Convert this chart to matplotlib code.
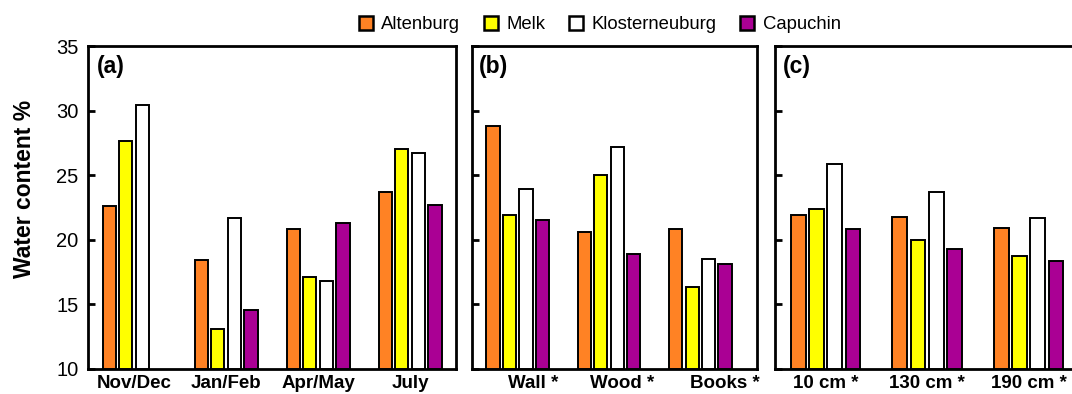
import matplotlib.pyplot as plt
import numpy as np
from matplotlib.patches import Patch

plt.rcParams['font.family'] = ['Liberation Sans', 'DejaVu Sans']

sites = ['Altenburg', 'Melk', 'Klosterneuburg', 'Capuchin']
colors = ['#ff8224', '#ffff00', '#ffffff', '#aa0094']

# (a) seasons
seasons = ['Nov/Dec', 'Jan/Feb', 'Apr/May', 'July']
altenburg_a = [22.6, 18.45, 20.8, 23.7]
melk_a = [27.6, 13.1, 17.1, 27.0]
kloster_a = [30.4, 21.65, 16.75, 26.7]
capuchin_a = [np.nan, 14.55, 21.25, 22.7]

# (b) materials
materials = ['Wall *', 'Wood *', 'Books *']
altenburg_b = [28.8, 20.55, 20.8]
melk_b = [21.9, 25.0, 16.3]
kloster_b = [23.9, 27.2, 18.5]
capuchin_b = [21.5, 18.9, 18.1]

# (c) heights
heights = ['10 cm *', '130 cm *', '190 cm *']
altenburg_c = [21.9, 21.75, 20.9]
melk_c = [22.35, 19.95, 18.75]
kloster_c = [25.85, 23.65, 21.7]
capuchin_c = [20.85, 19.25, 18.3]

panels = [
    ('(a)', seasons, [altenburg_a, melk_a, kloster_a, capuchin_a]),
    ('(b)', materials, [altenburg_b, melk_b, kloster_b, capuchin_b]),
    ('(c)', heights, [altenburg_c, melk_c, kloster_c, capuchin_c]),
]

fig = plt.figure(figsize=(10.72, 3.94), dpi=100)
bottom, height = 0.0647, 0.8185
rects = [
    [0.0821, bottom, 0.3433, height],
    [0.4403, bottom, 0.2659, height],
    [0.7229, bottom, 0.2954, height],
]
xlims = [(-0.5, 3.5), (-0.5, 2.62), (-0.5, 2.62)]
label_shift = [[0, 0, 0, 0], [0.17, 0.14, 0.27], [0, 0, 0]]

pitch = 0.18
width = 0.145
offsets = (np.arange(4) - 1.5) * pitch

for i, (tag, cats, series) in enumerate(panels):
    ax = fig.add_axes(rects[i])
    x = np.arange(len(cats))
    for k, vals in enumerate(series):
        v = np.array(vals, dtype=float)
        ax.bar(x + offsets[k], v - 10, width, bottom=10, color=colors[k],
               edgecolor='black', linewidth=1.4, zorder=3)
    ax.set_xlim(*xlims[i])
    ax.set_ylim(10, 35)
    ax.set_yticks([10, 15, 20, 25, 30, 35])
    ax.set_xticks(x + np.array(label_shift[i]))
    ax.set_xticklabels(cats, fontsize=13.5, fontweight='bold')
    ax.tick_params(axis='x', length=0, pad=5)
    ax.tick_params(axis='y', direction='in', length=5, width=2, pad=7,
                   labelsize=14.5)
    if i > 0:
        ax.set_yticklabels([])
    for sp in ax.spines.values():
        sp.set_linewidth(2)
    ax.text(0.025, 0.935, tag, transform=ax.transAxes, fontsize=16.5,
            fontweight='bold', va='center', ha='left')
    if i == 0:
        ax.set_ylabel('Water content %', fontsize=16.5, fontweight='bold')
        ax.yaxis.set_label_coords(-0.14, 0.556)

handles = [Patch(facecolor=c, edgecolor='black', linewidth=1.8) for c in colors]
fig.legend(handles, sites, loc='center', bbox_to_anchor=(0.5595, 0.937),
           ncol=4, frameon=False, fontsize=13.3, handlelength=0.75,
           handleheight=0.75, handletextpad=0.45, columnspacing=1.3)

fig.savefig('out.png', dpi=100)
